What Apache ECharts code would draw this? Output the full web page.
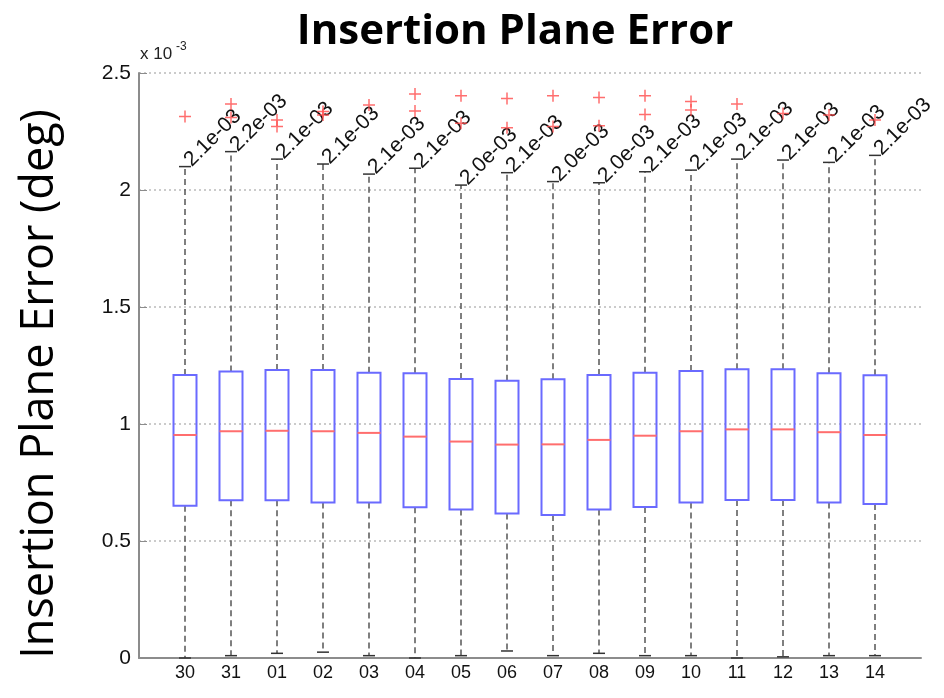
<!DOCTYPE html>
<html>
<head>
<meta charset="utf-8">
<script src="https://cdn.jsdelivr.net/npm/echarts@6/dist/echarts.min.js"></script>
<style>
  html, body { margin: 0; padding: 0; background: #fff; }
  #main { width: 944px; height: 698px; }
</style>
</head>
<body>
<div id="main"></div>
<script>
// box statistics per day, values in units of 1e-3 deg
var categories = ['30', '31', '01', '02', '03', '04', '05', '06', '07', '08', '09', '10', '11', '12', '13', '14'];
var whiskerLow = [0.00, 0.01, 0.02, 0.025, 0.01, 0.00, 0.01, 0.03, 0.01, 0.02, 0.01, 0.01, 0.00, 0.005, 0.01, 0.01];
var q1 = [0.651, 0.674, 0.674, 0.665, 0.665, 0.644, 0.635, 0.618, 0.611, 0.635, 0.645, 0.665, 0.675, 0.675, 0.665, 0.658];
var median = [0.953, 0.969, 0.971, 0.969, 0.962, 0.946, 0.925, 0.912, 0.913, 0.932, 0.950, 0.969, 0.977, 0.977, 0.965, 0.953];
var q3 = [1.209, 1.224, 1.231, 1.231, 1.219, 1.217, 1.192, 1.185, 1.191, 1.209, 1.219, 1.226, 1.234, 1.234, 1.217, 1.208];
var whiskerHigh = [2.100, 2.164, 2.132, 2.111, 2.068, 2.093, 2.021, 2.074, 2.036, 2.031, 2.078, 2.085, 2.132, 2.128, 2.118, 2.148];
var highLabels = ['2.1e-03', '2.2e-03', '2.1e-03', '2.1e-03', '2.1e-03', '2.1e-03', '2.0e-03', '2.1e-03',
                  '2.0e-03', '2.0e-03', '2.1e-03', '2.1e-03', '2.1e-03', '2.1e-03', '2.1e-03', '2.1e-03'];
// outliers: [position (1 = first box), value]
var outliers = [
  [1, 2.314],
  [2, 2.368], [2, 2.310],
  [3, 2.299], [3, 2.271],
  [4, 2.335], [4, 2.320],
  [5, 2.363],
  [6, 2.410], [6, 2.338],
  [7, 2.403], [7, 2.285],
  [8, 2.391], [8, 2.266],
  [9, 2.403], [9, 2.271],
  [10, 2.395], [10, 2.275],
  [11, 2.403], [11, 2.323],
  [12, 2.378], [12, 2.342],
  [13, 2.368],
  [14, 2.327],
  [15, 2.321],
  [16, 2.299]
];

var boxData = categories.map(function (c, i) {
  return [i + 1, whiskerLow[i], q1[i], median[i], q3[i], whiskerHigh[i]];
});

var tickFont = '"Liberation Sans", Arial, sans-serif';

function renderBox(params, api) {
  var x = api.value(0);
  var lo = api.coord([x, api.value(1)]);
  var b1 = api.coord([x, api.value(2)]);
  var md = api.coord([x, api.value(3)]);
  var b3 = api.coord([x, api.value(4)]);
  var hi = api.coord([x, api.value(5)]);
  var halfBox = api.size([0.25, 0])[0];
  var halfCap = api.size([0.13, 0])[0];
  var cx = hi[0];
  var dashed = { stroke: '#555', lineWidth: 1.5, lineDash: [6, 4] };
  var solid = { stroke: '#333', lineWidth: 1.5 };
  return {
    type: 'group',
    children: [
      { type: 'line', shape: { x1: cx, y1: b3[1], x2: cx, y2: hi[1] }, style: dashed },
      { type: 'line', shape: { x1: cx, y1: b1[1], x2: cx, y2: lo[1] }, style: dashed },
      { type: 'line', shape: { x1: cx - halfCap, y1: hi[1], x2: cx + halfCap, y2: hi[1] }, style: solid },
      { type: 'line', shape: { x1: cx - halfCap, y1: lo[1], x2: cx + halfCap, y2: lo[1] }, style: solid },
      {
        type: 'rect',
        shape: { x: cx - halfBox, y: b3[1], width: halfBox * 2, height: b1[1] - b3[1] },
        style: { fill: 'none', stroke: '#6a6aff', lineWidth: 2 }
      },
      {
        type: 'line',
        shape: { x1: cx - halfBox, y1: md[1], x2: cx + halfBox, y2: md[1] },
        style: { stroke: '#ff6e6e', lineWidth: 2 }
      },
      {
        type: 'text',
        x: cx + 10,
        y: hi[1] + 4,
        rotation: 45 * Math.PI / 180,
        style: {
          text: highLabels[params.dataIndex],
          x: 0, y: 0,
          align: 'left',
          verticalAlign: 'bottom',
          font: '21px ' + tickFont,
          fill: '#111'
        }
      }
    ]
  };
}

var option = {
  animation: false,
  backgroundColor: '#fff',
  title: {
    text: 'Insertion Plane Error',
    left: 510,
    top: 6,
    textAlign: 'center',
    textStyle: { fontFamily: 'Open Sans', fontWeight: 'bold', fontSize: 42, color: '#000' }
  },
  graphic: [
    {
      type: 'text', x: 40, y: 384, rotation: Math.PI / 2,
      style: {
        text: 'Insertion Plane Error (deg)', x: 0, y: 0, align: 'center', verticalAlign: 'middle',
        font: '45px "Open Sans", sans-serif', fill: '#000'
      }
    },
    { type: 'text', left: 140, top: 46, style: { text: 'x 10', font: '17px ' + tickFont, fill: '#222' } },
    { type: 'text', left: 176, top: 41, style: { text: '-3', font: '12px ' + tickFont, fill: '#222' } }
  ],
  grid: { left: 139, right: 23, top: 73, bottom: 40 },
  xAxis: {
    type: 'value',
    min: 0,
    max: 17,
    interval: 1,
    splitLine: { show: false },
    axisTick: { show: false },
    axisLine: { lineStyle: { color: '#8c8c8c', width: 2 } },
    axisLabel: {
      color: '#111',
      fontFamily: tickFont,
      fontSize: 18,
      margin: 6,
      formatter: function (v) { return categories[v - 1] || ''; }
    }
  },
  yAxis: {
    type: 'value',
    min: 0,
    max: 2.5,
    interval: 0.5,
    axisLine: { show: true, lineStyle: { color: '#8c8c8c', width: 2 } },
    axisTick: { show: true, inside: true, length: 8, lineStyle: { color: '#8c8c8c' } },
    splitLine: { lineStyle: { color: '#bbb', type: [2, 3], width: 1.5 } },
    axisLabel: {
      color: '#111',
      fontFamily: tickFont,
      fontSize: 21,
      margin: 8,
      formatter: function (v) { return String(v); }
    }
  },
  series: [
    {
      type: 'custom',
      renderItem: renderBox,
      encode: { x: 0, y: [1, 2, 3, 4, 5] },
      data: boxData,
      z: 2
    },
    {
      type: 'scatter',
      symbol: 'path://M0,6L12,6M6,0L6,12',
      symbolSize: 12,
      itemStyle: { color: 'none', borderColor: '#ff4a4a', borderWidth: 1.5 },
      data: outliers,
      z: 3
    }
  ]
};

var chart = echarts.init(document.getElementById('main'));
chart.setOption(option);
</script>
</body>
</html>
